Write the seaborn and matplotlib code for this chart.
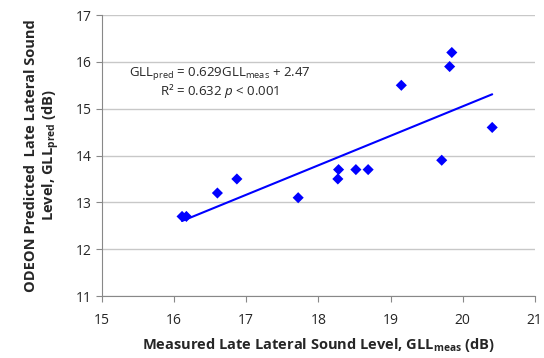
import numpy as np
import matplotlib
matplotlib.use('Agg')
import matplotlib.pyplot as plt
import seaborn as sns
import pandas as pd

sns.set_style('white')
plt.rcParams['font.family'] = ['Open Sans', 'DejaVu Sans']
plt.rcParams['mathtext.fontset'] = 'custom'
plt.rcParams['mathtext.rm'] = 'Open Sans'
plt.rcParams['mathtext.it'] = 'Open Sans:italic'
plt.rcParams['mathtext.bf'] = 'Open Sans:bold'

gll_meas = [16.11, 16.17, 16.60, 16.87, 17.72, 18.27, 18.28, 18.52, 18.69,
            19.15, 19.71, 19.82, 19.85, 20.41]
gll_pred = [12.7, 12.7, 13.2, 13.5, 13.1, 13.5, 13.7, 13.7, 13.7,
            15.5, 13.9, 15.9, 16.2, 14.6]
slope, intercept = 0.629, 2.47

df = pd.DataFrame({'meas': gll_meas, 'pred': gll_pred})

fig = plt.figure(figsize=(5.44, 3.58), dpi=100)
ax = fig.add_axes([0.1875, 0.173, 0.7955, 0.785])

sns.scatterplot(data=df, x='meas', y='pred', marker='D', color='#0000ff',
                s=32, edgecolor='none', ax=ax, zorder=3)
xl = np.array([df['meas'].min(), df['meas'].max()])
ax.plot(xl, slope * xl + intercept, color='#0000ff', lw=1.5, zorder=2)

ax.set_xlim(15, 21)
ax.set_ylim(11, 17)
ax.set_xticks(range(15, 22))
ax.set_yticks(range(11, 18))
ax.yaxis.grid(True, color='#c8c8c8', lw=1)
ax.set_axisbelow(True)
for s in ['top', 'right']:
    ax.spines[s].set_visible(False)
for s in ['left', 'bottom']:
    ax.spines[s].set_color('#888888')
ax.tick_params(axis='both', length=4, color='#888888', labelsize=10, direction='out',
               left=True, bottom=True)
ax.tick_params(axis='x', pad=8)

ax.set_xlabel(r'Measured Late Lateral Sound Level, GLL$_{\mathbf{meas}}$ (dB)',
              fontsize=10.5, fontweight='bold', labelpad=6)
ax.set_ylabel('ODEON Predicted  Late Lateral Sound\n' + r'Level, GLL$_{\mathbf{pred}}$ (dB)',
              fontsize=10.5, fontweight='bold', labelpad=10)

eq = (r'GLL$_{\mathrm{pred}}$ = 0.629GLL$_{\mathrm{meas}}$ + 2.47' + '\n'
      + r'R² = 0.632 $\mathit{p}$ < 0.001')
ax.text(16.63, 15.56, eq, ha='center', va='center', multialignment='center',
        fontsize=9.5, linespacing=1.05)

fig.savefig('out.png', dpi=100)
